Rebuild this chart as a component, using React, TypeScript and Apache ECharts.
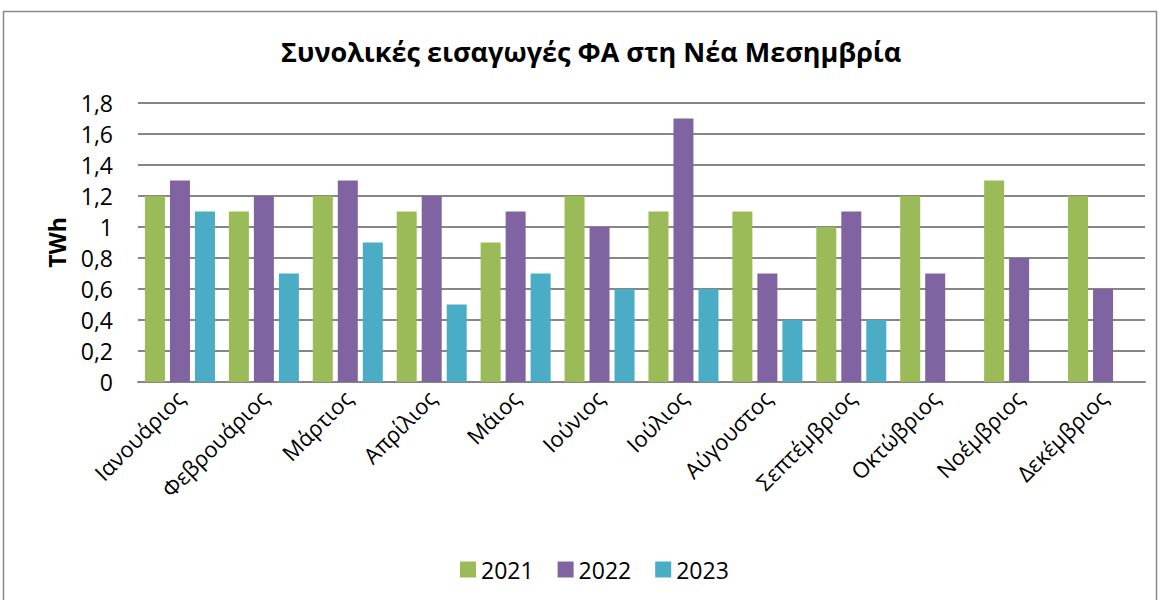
import React, { useEffect, useRef } from "react";
import * as echarts from "echarts";

const months = [
  "Ιανουάριος", "Φεβρουάριος", "Μάρτιος", "Απρίλιος", "Μάιος", "Ιούνιος",
  "Ιούλιος", "Αύγουστος", "Σεπτέμβριος", "Οκτώβριος", "Νοέμβριος", "Δεκέμβριος",
];
const y2021 = [1.2, 1.1, 1.2, 1.1, 0.9, 1.2, 1.1, 1.1, 1.0, 1.2, 1.3, 1.2];
const y2022 = [1.3, 1.2, 1.3, 1.2, 1.1, 1.0, 1.7, 0.7, 1.1, 0.7, 0.8, 0.6];
const y2023 = [1.1, 0.7, 0.9, 0.5, 0.7, 0.6, 0.6, 0.4, 0.4, null, null, null];
const seriesNames = ["2021", "2022", "2023"];
const colors = ["#9BBB59", "#8064A2", "#4BACC6"];

const FONT = "'Open Sans', 'Noto Sans', sans-serif";

export default function App() {
  const ref = useRef<HTMLDivElement>(null);
  useEffect(() => {
    if (!ref.current) return;
    const chart = echarts.init(ref.current, null, { renderer: "svg" });
    const data = [y2021, y2022, y2023];
    chart.setOption({
      animation: false,
      backgroundColor: "#ffffff",
      textStyle: { fontFamily: FONT },
      title: {
        text: "Συνολικές εισαγωγές ΦΑ στη Νέα Μεσημβρία",
        left: 276,
        top: 33,
        textStyle: { fontFamily: FONT, fontSize: 27, fontWeight: "bold", color: "#000" },
      },
      graphic: [
        {
          type: "rect",
          shape: { x: 3.5, y: 11.5, width: 1153, height: 600 },
          style: { fill: "none", stroke: "#888", lineWidth: 1.5 },
          silent: true,
        },
      ],
      legend: {
        data: seriesNames,
        bottom: 14,
        left: 455,
        itemWidth: 16,
        itemHeight: 16,
        itemGap: 24,
        icon: "rect",
        textStyle: { fontFamily: FONT, fontSize: 23, color: "#000" },
      },
      grid: { left: 138, right: 15, top: 103, bottom: 218, containLabel: false },
      xAxis: {
        type: "category",
        data: months,
        axisTick: { show: false },
        axisLine: { show: true, lineStyle: { color: "#868686", width: 2 } },
        axisLabel: {
          rotate: 45,
          fontFamily: FONT,
          fontSize: 22,
          color: "#000",
          margin: 12,
          interval: 0,
        },
      },
      yAxis: {
        type: "value",
        min: 0,
        max: 1.8,
        interval: 0.2,
        name: "TWh",
        nameLocation: "middle",
        nameGap: 70,
        nameTextStyle: { fontFamily: FONT, fontSize: 23, fontWeight: "bold", color: "#000" },
        axisLine: { show: false },
        axisTick: { show: false },
        splitLine: { lineStyle: { color: "#868686", width: 2 } },
        axisLabel: {
          fontFamily: FONT,
          fontSize: 23,
          color: "#000",
          margin: 25,
          formatter: (v: number) => (Math.round(v * 10) / 10).toString().replace(".", ","),
        },
      },
      series: seriesNames.map((n, i) => ({
        name: n,
        type: "bar",
        data: data[i],
        barWidth: 20,
        barGap: "25%",
        itemStyle: { color: colors[i] },
      })),
    });
    return () => chart.dispose();
  }, []);
  return (
    <div
      ref={ref}
      style={{ position: "fixed", left: 0, top: 0, width: 1160, height: 600 }}
    />
  );
}
